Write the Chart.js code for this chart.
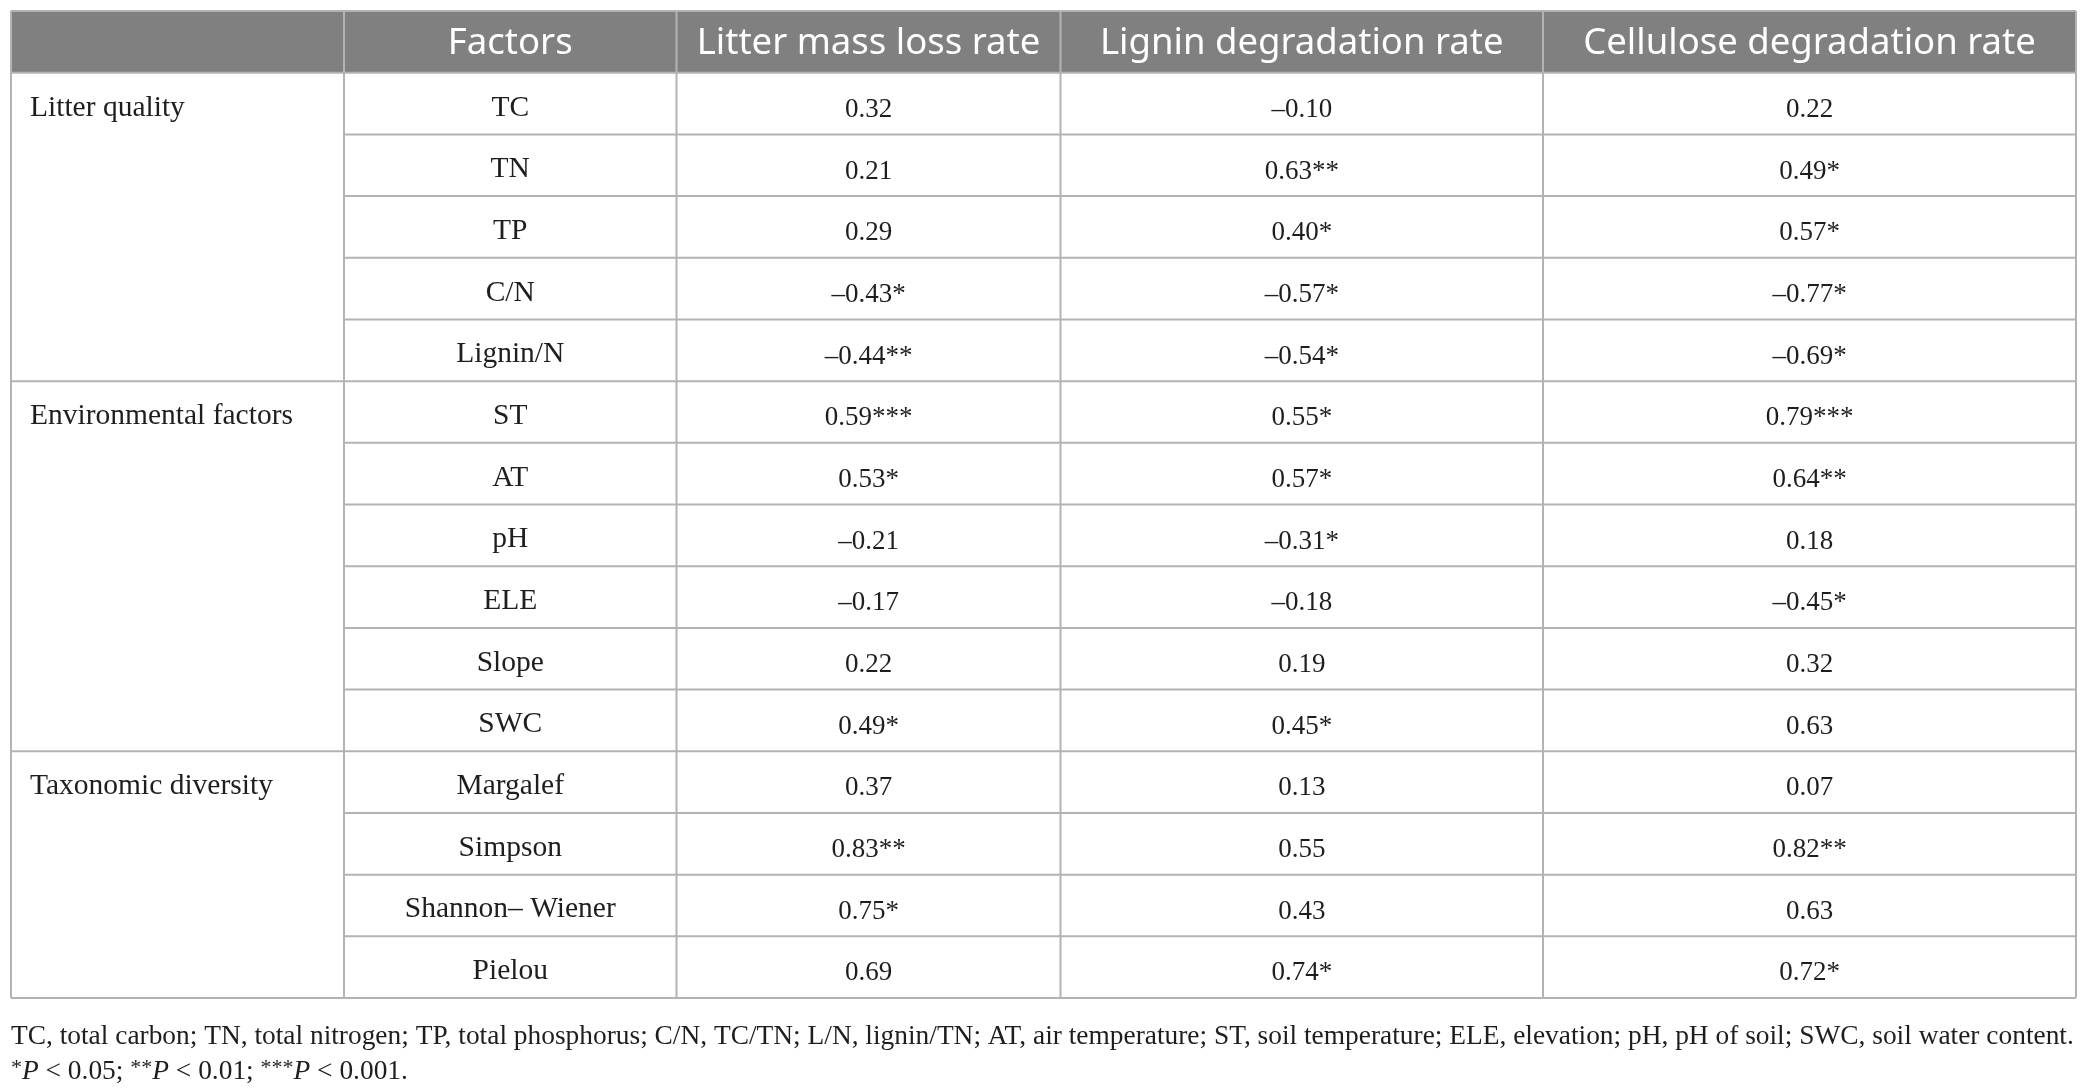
<!DOCTYPE html>
<html>
<head>
<meta charset="utf-8">
<script src="https://cdn.jsdelivr.net/npm/chart.js@4.4.1/dist/chart.umd.min.js"></script>
<style>
  html, body { margin: 0; padding: 0; background: #fff; }
  #wrap { width: 2088px; height: 1092px; }
</style>
</head>
<body>
<div id="wrap"><canvas id="tbl" width="2088" height="1092"></canvas></div>
<script>
// table content
const headers = ['Factors', 'Litter mass loss rate', 'Lignin degradation rate', 'Cellulose degradation rate'];
const groups = ['Litter quality', 'Environmental factors', 'Taxonomic diversity'];
const groupSizes = [5, 6, 4];
const factors = ['TC', 'TN', 'TP', 'C/N', 'Lignin/N', 'ST', 'AT', 'pH', 'ELE', 'Slope', 'SWC',
  'Margalef', 'Simpson', 'Shannon\u2013 Wiener', 'Pielou'];

const massLoss    = [0.32, 0.21, 0.29, -0.43, -0.44, 0.59, 0.53, -0.21, -0.17, 0.22, 0.49, 0.37, 0.83, 0.75, 0.69];
const massLossSig = [0, 0, 0, 1, 2, 3, 1, 0, 0, 0, 1, 0, 2, 1, 0];
const lignin      = [-0.10, 0.63, 0.40, -0.57, -0.54, 0.55, 0.57, -0.31, -0.18, 0.19, 0.45, 0.13, 0.55, 0.43, 0.74];
const ligninSig   = [0, 2, 1, 1, 1, 1, 1, 1, 0, 0, 1, 0, 0, 0, 1];
const cellulose   = [0.22, 0.49, 0.57, -0.77, -0.69, 0.79, 0.64, 0.18, -0.45, 0.32, 0.63, 0.07, 0.82, 0.63, 0.72];
const celluloseSig= [0, 1, 1, 1, 1, 3, 2, 0, 1, 0, 0, 0, 2, 0, 1];

const footnote1 = 'TC, total carbon; TN, total nitrogen; TP, total phosphorus; C/N, TC/TN; L/N, lignin/TN; AT, air temperature; ST, soil temperature; ELE, elevation; pH, pH of soil; SWC, soil water content.';
const footnote2 = ['*', 'P', ' < 0.05; ', '**', 'P', ' < 0.01; ', '***', 'P', ' < 0.001.'];

// layout: column edges in table units (x scale runs 0..2065)
const colEdges = [0, 333, 665.5, 1049.5, 1532, 2065];
const LINE = '#b3b3b3';
const HEAD_BG = '#808080';
const TEXT = '#1e1e1e';
const SERIF = '"Liberation Serif", "DejaVu Serif", serif';
const SANS = '"Noto Sans", "Open Sans", sans-serif';

function fmt(v, sig) {
  return (v < 0 ? '\u2013' : '') + Math.abs(v).toFixed(2) + '*'.repeat(sig);
}

const columns = [
  massLoss.map((v, i) => fmt(v, massLossSig[i])),
  lignin.map((v, i) => fmt(v, ligninSig[i])),
  cellulose.map((v, i) => fmt(v, celluloseSig[i]))
];

const tablePlugin = {
  id: 'tablePlugin',
  afterDraw(chart) {
    const { ctx, chartArea: a } = chart;
    const xs = chart.scales.x, ys = chart.scales.y;
    const X = v => xs.getPixelForValue(v);
    const rowTop = i => ys.getPixelForValue(i - 0.5);
    const rowMid = i => ys.getPixelForValue(i);
    const colMid = c => X((colEdges[c] + colEdges[c + 1]) / 2);
    const nRows = factors.length + 1;

    ctx.save();
    // header band
    ctx.fillStyle = HEAD_BG;
    ctx.fillRect(a.left, rowTop(0), a.right - a.left, rowTop(1) - rowTop(0));

    ctx.strokeStyle = LINE;
    ctx.lineWidth = 2;
    colEdges.forEach(e => {
      ctx.beginPath();
      ctx.moveTo(X(e), rowTop(0));
      ctx.lineTo(X(e), rowTop(nRows));
      ctx.stroke();
    });
    const groupStarts = [];
    let acc = 1;
    groupSizes.forEach(n => { groupStarts.push(acc); acc += n; });
    for (let r = 0; r <= nRows; r++) {
      const full = r <= 1 || r === nRows || groupStarts.includes(r);
      ctx.beginPath();
      ctx.moveTo(full ? a.left : X(colEdges[1]), rowTop(r));
      ctx.lineTo(a.right, rowTop(r));
      ctx.stroke();
    }

    // header text
    ctx.fillStyle = '#ffffff';
    ctx.font = '36.5px ' + SANS;
    ctx.textAlign = 'center';
    ctx.textBaseline = 'alphabetic';
    headers.forEach((h, c) => ctx.fillText(h, colMid(c + 1), rowMid(0) + 12));

    // body text
    ctx.fillStyle = TEXT;
    ctx.font = '29.5px ' + SERIF;
    factors.forEach((f, r) => ctx.fillText(f, colMid(1), rowMid(r + 1) + 12));
    ctx.font = '27px ' + SERIF;
    columns.forEach((col, c) => {
      col.forEach((t, r) => ctx.fillText(t, colMid(c + 2), rowMid(r + 1) + 13.3));
    });
    ctx.textAlign = 'left';
    ctx.font = '29.5px ' + SERIF;
    groups.forEach((g, k) => ctx.fillText(g, a.left + 19, rowMid(groupStarts[k]) + 12));

    // footnotes
    ctx.font = '27.4px ' + SERIF;
    ctx.fillText(footnote1, a.left, a.bottom + 46);
    let x = a.left;
    footnote2.forEach(seg => {
      let dy = 0;
      if (seg === 'P') ctx.font = 'italic 27.4px ' + SERIF;
      else if (seg[0] === '*') { ctx.font = '22px ' + SERIF; dy = -5; }
      else ctx.font = '27.4px ' + SERIF;
      ctx.fillText(seg, x, a.bottom + 81 + dy);
      x += ctx.measureText(seg).width;
    });
    ctx.restore();
  }
};

new Chart(document.getElementById('tbl').getContext('2d'), {
  type: 'scatter',
  data: { datasets: [] },
  options: {
    responsive: false,
    animation: false,
    devicePixelRatio: 1,
    layout: { padding: { left: 11, top: 11, right: 12, bottom: 94 } },
    plugins: { legend: { display: false }, tooltip: { enabled: false } },
    scales: {
      x: { type: 'linear', min: 0, max: colEdges[colEdges.length - 1], display: false },
      y: { type: 'category', labels: ['Factors', ...factors], offset: true, display: false }
    }
  },
  plugins: [tablePlugin]
});
</script>
</body>
</html>
